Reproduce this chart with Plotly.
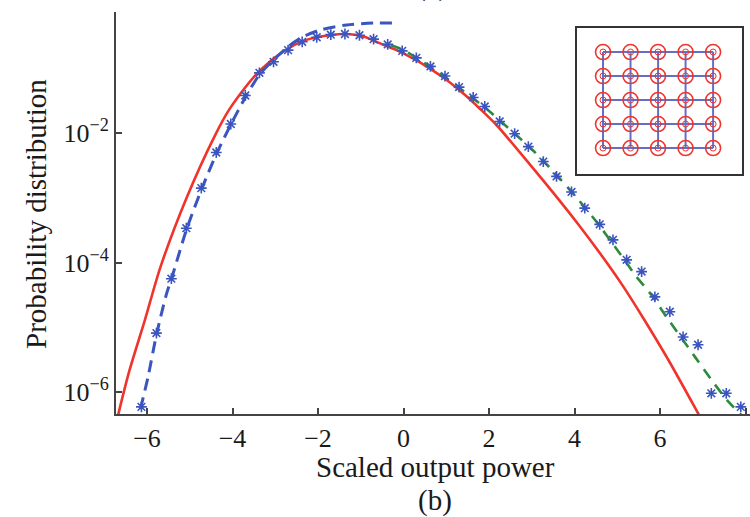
import plotly.graph_objects as go

# ---- data (x: scaled output power, y: probability) ----
red_x = [-6.75, -6.67, -6.42, -6.05, -5.68, -5.08, -4.42, -4.07, -3.44, -2.81, -2.27, -1.73,
         -1.33, -0.94, -0.56, -0.16, 0.23, 0.61, 1.01, 1.40, 1.78, 2.18, 2.95, 3.50, 4.10,
         4.60, 5.10, 5.61, 6.20, 6.90, 7.00]
red_y = [2.75e-7, 4.57e-7, 2.04e-6, 1.29e-5, 8.71e-5, 9.77e-4, 8.91e-3, 2.34e-2, 8.13e-2, 0.182,
         0.275, 0.324, 0.339, 0.309, 0.245, 0.191, 0.141, 0.100, 0.0661, 0.0407, 0.0240, 0.0132,
         3.31e-3, 1.20e-3, 3.80e-4, 1.38e-4, 4.68e-5, 1.38e-5, 3.09e-6, 4.57e-7, 3.47e-7]

blue_x = [-6.25, -6.18, -5.97, -5.78, -5.55, -5.39, -5.08, -4.73, -4.38, -4.04, -3.70, -3.37,
          -3.04, -2.70, -2.37, -1.96, -1.33, -0.70, -0.12]
blue_y = [2.82e-7, 4.57e-7, 1.78e-6, 7.59e-6, 3.16e-5, 6.76e-5, 3.16e-4, 1.32e-3, 4.68e-3,
          0.0135, 0.0355, 0.0794, 0.135, 0.215, 0.302, 0.389, 0.468, 0.501, 0.501]

green_x = [-0.3, 0.0, 0.5, 1.0, 1.5, 2.0, 2.5, 3.0, 3.5, 4.0, 4.5, 5.06, 5.45, 5.80, 6.15,
           6.81, 7.20, 7.60, 8.0]
green_y = [0.229, 0.191, 0.120, 0.0708, 0.0398, 0.0219, 0.0112, 5.62e-3, 2.57e-3, 1.10e-3,
           4.37e-4, 1.38e-4, 6.03e-5, 3.16e-5, 1.45e-5, 3.55e-6, 1.55e-6, 7.08e-7, 3.80e-7]

star_x = [-6.13, -5.78, -5.43, -5.08, -4.73, -4.38, -4.04, -3.70, -3.37, -3.04, -2.70, -2.37,
          -2.03, -1.70, -1.37, -1.03, -0.70, -0.37, -0.03, 0.30, 0.63, 0.97, 1.30, 1.63, 1.90,
          2.25, 2.60, 2.92, 3.27, 3.58, 3.93, 4.24, 4.59, 4.90, 5.22, 5.57, 5.88, 6.23, 6.54,
          6.89, 7.20, 7.55, 7.89]
star_y = [5.89e-7, 8.13e-6, 5.62e-5, 3.39e-4, 1.41e-3, 5.01e-3, 0.0138, 0.0380, 0.0851, 0.126,
          0.191, 0.257, 0.302, 0.331, 0.339, 0.324, 0.282, 0.234, 0.186, 0.145, 0.107, 0.0759,
          0.0513, 0.0355, 0.0257, 0.0151, 9.77e-3, 6.17e-3, 3.63e-3, 2.14e-3, 1.23e-3, 6.92e-4,
          3.89e-4, 2.24e-4, 1.10e-4, 7.24e-5, 2.95e-5, 1.74e-5, 7.08e-6, 5.37e-6, 9.55e-7,
          9.55e-7, 5.89e-7]

x_ticks = [-6, -4, -2, 0, 2, 4, 6, 8]
x_tick_labels = ["\u22126", "\u22124", "\u22122", "0", "2", "4", "6", "8"]
y_ticks = [1e-6, 1e-4, 1e-2]
y_tick_labels = ["10<sup>\u22126</sup>", "10<sup>\u22124</sup>", "10<sup>\u22122</sup>"]

# inset: 5x5 lattice of nodes
grid_cols = [0, 1, 2, 3, 4]
grid_rows = [0, 1, 2, 3, 4]

FONT = "Liberation Serif"
RED = "#f0342c"
BLUE = "#3a55bf"
GREEN = "#2e8b3c"

fig = go.Figure()
fig.add_trace(go.Scatter(x=red_x, y=red_y, mode="lines",
                         line=dict(color=RED, width=2.6, shape="spline", smoothing=0.8),
                         hoverinfo="skip"))
fig.add_trace(go.Scatter(x=green_x, y=green_y, mode="lines",
                         line=dict(color=GREEN, width=2.6, dash="11px,8px", shape="spline", smoothing=0.8),
                         hoverinfo="skip"))
fig.add_trace(go.Scatter(x=blue_x, y=blue_y, mode="lines",
                         line=dict(color=BLUE, width=3, dash="12px,7px", shape="spline", smoothing=0.8),
                         hoverinfo="skip"))
fig.add_trace(go.Scatter(x=star_x, y=star_y, mode="markers",
                         marker=dict(symbol="asterisk-open", size=9, color=BLUE, line=dict(color=BLUE, width=1.6)),
                         hoverinfo="skip"))

# inset lattice lines
lx, ly = [], []
for r in grid_rows:
    lx += [grid_cols[0], grid_cols[-1], None]
    ly += [r, r, None]
for c in grid_cols:
    lx += [c, c, None]
    ly += [grid_rows[0], grid_rows[-1], None]
fig.add_trace(go.Scatter(x=lx, y=ly, mode="lines", line=dict(color="#6070c8", width=2),
                         xaxis="x2", yaxis="y2", hoverinfo="skip"))
nx = [c for r in grid_rows for c in grid_cols]
ny = [r for r in grid_rows for c in grid_cols]
fig.add_trace(go.Scatter(x=nx, y=ny, mode="markers",
                         marker=dict(symbol="circle-open", size=15, color=RED, line=dict(color=RED, width=1.6)),
                         xaxis="x2", yaxis="y2", hoverinfo="skip"))
fig.add_trace(go.Scatter(x=nx, y=ny, mode="markers",
                         marker=dict(symbol="circle-open", size=6, color=RED, line=dict(color=RED, width=1)),
                         xaxis="x2", yaxis="y2", hoverinfo="skip"))

W, H = 750, 517
L, R, T, B = 116, 0, 12, 103
pw, ph = W - L - R, H - T - B

def px2paper_x(px):
    return (px - L) / pw

def py2paper_y(py):
    return (H - B - py) / ph

fig.update_layout(
    width=W, height=H,
    margin=dict(l=L, r=R, t=T, b=B),
    paper_bgcolor="white", plot_bgcolor="white",
    showlegend=False,
    font=dict(family=FONT, size=26, color="#1a1a1a"),
    xaxis=dict(range=[-6.725, 8.105], tickvals=x_ticks, ticktext=x_tick_labels,
               showgrid=False, zeroline=False, showline=True, linecolor="#444", linewidth=2,
               ticks="inside", ticklen=6, tickwidth=1.5, tickcolor="#444",
               tickfont=dict(family=FONT, size=26, color="#1a1a1a")),
    yaxis=dict(type="log", range=[-6.34, -0.13], tickvals=y_ticks, ticktext=y_tick_labels,
               showgrid=False, zeroline=False, showline=True, linecolor="#444", linewidth=2,
               ticks="inside", ticklen=6, tickwidth=1.5, tickcolor="#444",
               tickfont=dict(family=FONT, size=26, color="#1a1a1a")),
    xaxis2=dict(domain=[px2paper_x(577), px2paper_x(742)], range=[-0.945, 5.05], anchor="y2",
                showgrid=False, zeroline=False, showticklabels=False, ticks="",
                showline=True, mirror=True, linecolor="#333", linewidth=2),
    yaxis2=dict(domain=[py2paper_y(174), py2paper_y(28)], range=[-1.08, 5.0], anchor="x2",
                showgrid=False, zeroline=False, showticklabels=False, ticks="",
                showline=True, mirror=True, linecolor="#333", linewidth=2),
)

fig.add_annotation(text="Scaled output power", xref="paper", yref="paper",
                   x=px2paper_x(435), y=py2paper_y(467), xanchor="center", yanchor="middle",
                   showarrow=False, font=dict(family=FONT, size=29, color="#1a1a1a"))
fig.add_annotation(text="(b)", xref="paper", yref="paper",
                   x=px2paper_x(435), y=py2paper_y(500), xanchor="center", yanchor="middle",
                   showarrow=False, font=dict(family=FONT, size=29, color="#1a1a1a"))
fig.add_annotation(text="Probability distribution", xref="paper", yref="paper", textangle=-90,
                   x=px2paper_x(36), y=py2paper_y(214), xanchor="center", yanchor="middle",
                   showarrow=False, font=dict(family=FONT, size=29, color="#1a1a1a"))
fig.add_annotation(text="(a)", xref="paper", yref="paper",
                   x=px2paper_x(432), y=py2paper_y(-14), xanchor="center", yanchor="middle",
                   showarrow=False, font=dict(family=FONT, size=29, color="#1a1a1a"))

fig.write_html("out.html")
